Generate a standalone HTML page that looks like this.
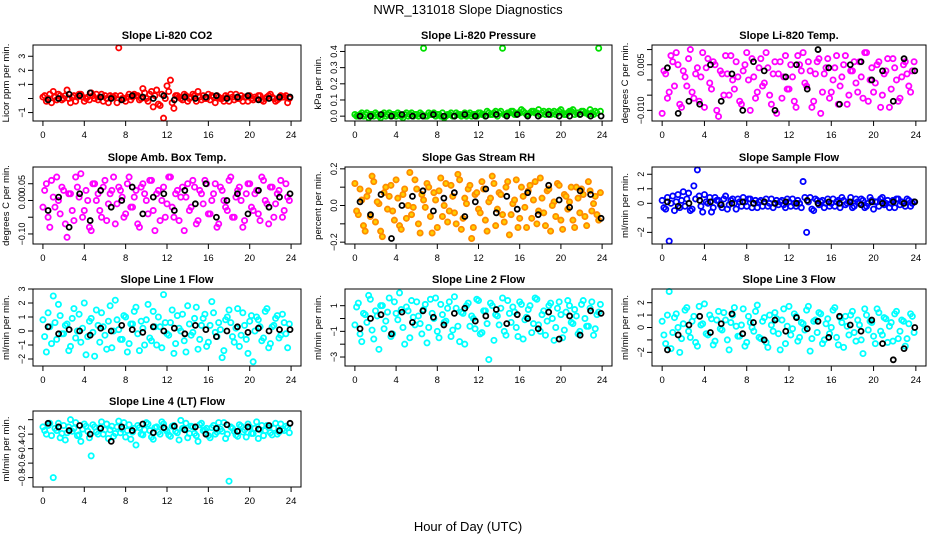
<!DOCTYPE html>
<html><head><meta charset="utf-8">
<style>
html,body{margin:0;padding:0;background:#fff;}
svg{display:block;font-family:"Liberation Sans",Arial,sans-serif;}
</style></head>
<body>
<svg id="chart" width="936" height="540" viewBox="0 0 936 540" xmlns="http://www.w3.org/2000/svg">
<rect width="936" height="540" fill="#fff"/>
<text x="468" y="14" text-anchor="middle" font-size="13">NWR_131018  Slope Diagnostics</text>
<text x="468" y="531" text-anchor="middle" font-size="13">Hour of Day (UTC)</text>
<g id="panels"></g>
</svg>
<script>
const xTicks = [0,4,8,12,16,20,24];
const titles = ["Slope Li-820 CO2","Slope Li-820 Pressure","Slope Li-820 Temp.","Slope Amb. Box Temp.","Slope Gas Stream RH","Slope Sample Flow","Slope Line 1 Flow","Slope Line 2 Flow","Slope Line 3 Flow","Slope Line 4 (LT) Flow"];
const yTitles = ["Licor ppm per min.","kPa per min.","degrees C per min.","degrees C per min.","percent per min.","ml/min per min.","ml/min per min.","ml/min per min.","ml/min per min.","ml/min per min."];
const yDomains = [[-1.6,3.8],[-0.03,0.44],[-0.0135,0.0115],[-0.13,0.10],[-0.21,0.21],[-2.8,2.5],[-2.5,3.0],[-3.7,2.3],[-3.1,3.1],[-0.93,0.12]];
const yTicks = [[-1,0,1,2,3],[0,0.1,0.2,0.3,0.4],[-0.01,-0.005,0,0.005,0.01],[-0.1,-0.05,0,0.05],[-0.2,-0.1,0,0.1,0.2],[-2,-1,0,1,2],[-2,-1,0,1,2,3],[-3,-2,-1,0,1],[-2,-1,0,1,2],[-0.8,-0.6,-0.4,-0.2,0]];
const yTickLabels = [["−1","","1","2","3"],["0.0","0.1","0.2","0.3","0.4"],["−0.010","","","0.005",""],["−0.10","","0.00","0.05"],["−0.2","","0.0","","0.2"],["−2","","0","1","2"],["−2","−1","0","1","2","3"],["−3","","−1","","1"],["−2","","0","1","2"],["−0.8","−0.6","−0.4","−0.2",""]];
const colors = ["#ff0000","#00e000","#ff00ff","#ff00ff","#ff8c00","#0000ff","#00ffff","#00ffff","#00ffff","#00ffff"];

const colored0 = [0.1,-0.2,0.3,0.5,-0.1,0.2,0.0,0.6,-0.3,0.2,0.1,0.3,-0.2,0.1,0.4,0.0,-0.1,0.3,0.2,-0.3,0.1,0.2,3.6,0.0,-0.2,0.3,0.1,0.2,-0.1,0.7,0.0,0.3,-0.6,0.6,-0.5,-1.4,0.9,1.3,-0.7,0.2,0.0,0.3,-0.2,0.1,0.2,0.5,-0.1,0.0,0.3,0.2,-0.3,0.1,0.0,0.2,-0.2,0.1,0.3,0.0,-0.2,0.1,0.2,-0.1,0.0,0.2,-0.2,0.1,0.3,0.0,-0.1,0.2,0.1,-0.3];
const coloredB0 = [0.2,0.0,-0.3,0.1,0.3,-0.1,0.2,0.0,0.1,-0.2,0.3,0.1,0.0,-0.1,0.2,0.3,0.1,-0.2,0.0,0.2,0.1,-0.3,0.2,0.0,0.1,-0.1,0.3,0.2,0.0,0.4,-0.2,0.5,0.2,-0.4,0.3,0.0,0.5,-0.3,0.2,0.1,-0.1,0.2,0.0,0.3,-0.2,0.1,0.2,0.0,-0.1,0.1,0.2,0.0,-0.2,0.1,0.3,-0.1,0.0,0.2,0.1,-0.2,0.0,0.1,0.2,-0.1,0.0,0.2,0.1,-0.2,0.0,0.1,0.2,0.0];
const black0 = [-0.1,0.0,0.3,0.2,0.4,0.1,0.0,-0.1,0.2,0.1,0.0,0.2,-0.1,0.1,0.0,0.1,0.2,0.0,0.1,0.2,-0.1,0.0,0.1,0.1];
const colored1 = [0.01,0.0,0.02,0.01,-0.01,0.01,0.02,0.0,0.01,0.0,0.02,0.01,0.0,0.01,-0.01,0.02,0.01,0.0,0.01,0.02,0.42,0.0,0.01,0.02,0.01,0.0,-0.01,0.01,0.02,0.0,0.01,0.0,0.02,0.01,0.0,0.01,0.02,0.01,0.0,0.02,0.01,0.03,0.02,0.42,0.01,0.02,0.03,0.01,0.02,0.03,0.01,0.02,0.03,0.02,0.01,0.03,0.02,0.01,0.03,0.02,0.04,0.01,0.02,0.03,0.01,0.02,0.03,0.02,0.01,0.02,0.03,0.42];
const coloredB1 = [0.0,0.01,0.0,0.02,0.01,0.0,0.01,-0.01,0.02,0.01,0.0,0.01,0.02,0.0,0.01,0.0,0.02,0.01,0.0,0.01,0.0,0.02,0.01,0.0,0.01,0.02,0.0,0.01,0.0,0.02,0.01,0.01,0.0,0.02,0.01,0.0,0.02,0.01,0.03,0.01,0.02,0.0,0.03,0.01,0.02,0.03,0.01,0.02,0.04,0.02,0.01,0.03,0.02,0.04,0.02,0.01,0.03,0.02,0.01,0.03,0.02,0.01,0.03,0.04,0.02,0.01,0.03,0.02,0.04,0.01,0.02,0.03];
const black1 = [0.0,0.0,0.01,0.0,0.01,0.0,0.0,0.01,0.0,0.0,0.01,0.0,0.0,0.01,0.0,0.01,0.0,0.0,0.01,0.0,0.0,0.01,0.0,0.0];
const colored2 = [-0.011,0.002,-0.004,0.006,0.009,-0.008,0.003,-0.002,0.010,-0.006,0.004,0.001,-0.009,0.007,-0.003,0.005,-0.012,0.002,0.008,-0.005,0.000,0.006,-0.007,0.003,0.009,-0.010,0.001,-0.004,0.007,-0.001,0.004,-0.008,0.006,0.002,-0.006,0.008,-0.003,0.001,-0.009,0.005,0.009,-0.002,0.003,-0.007,0.006,-0.011,0.002,0.007,-0.004,0.004,-0.008,0.001,0.008,-0.005,0.003,-0.001,0.006,-0.006,0.009,0.000,-0.004,0.005,-0.009,0.002,0.007,-0.003,0.004,-0.007,0.001,0.006,-0.002,0.003];
const coloredB2 = [0.003,-0.006,0.008,-0.002,0.005,-0.009,0.001,0.007,-0.004,0.002,-0.007,0.009,0.004,-0.001,0.006,-0.010,0.003,-0.005,0.002,0.008,-0.003,0.001,-0.008,0.005,0.000,0.007,-0.006,0.004,-0.002,0.009,-0.005,0.002,-0.011,0.006,0.001,-0.003,0.005,-0.007,0.008,0.003,-0.001,0.006,-0.009,0.002,0.007,-0.004,0.004,-0.006,0.000,0.008,-0.002,0.005,-0.008,0.003,0.006,-0.004,0.001,0.009,-0.007,0.004,-0.001,0.006,-0.005,0.003,-0.009,0.007,0.000,-0.006,0.005,0.002,-0.004,0.006];
const black2 = [0.004,-0.011,-0.007,-0.008,0.005,-0.007,0.002,-0.010,0.006,0.003,-0.010,0.001,0.005,-0.003,0.010,0.004,-0.008,0.005,0.006,0.000,0.003,-0.007,0.007,0.003];
const colored3 = [-0.02,0.05,-0.08,0.01,0.07,-0.04,0.03,-0.11,0.02,-0.06,0.04,0.08,-0.03,0.00,-0.09,0.05,0.02,-0.05,0.06,-0.01,0.03,-0.07,0.04,0.01,-0.04,0.07,-0.02,0.03,-0.08,0.05,0.00,0.06,-0.03,0.02,-0.06,0.04,-0.01,0.07,-0.05,0.03,0.01,-0.09,0.05,-0.02,0.04,-0.06,0.02,0.06,-0.04,0.00,0.05,-0.07,0.03,-0.02,0.06,-0.05,0.01,0.04,-0.08,0.02,0.05,-0.03,0.03,-0.06,0.06,-0.01,0.04,-0.05,0.02,0.06,-0.03,0.01];
const coloredB3 = [0.03,-0.05,0.06,-0.02,0.00,0.04,-0.07,0.02,-0.03,0.07,0.01,-0.05,0.03,-0.08,0.05,0.00,-0.03,0.04,-0.06,0.02,0.07,-0.01,0.03,-0.05,0.05,-0.02,0.01,-0.07,0.04,0.02,-0.04,0.06,-0.09,0.03,0.00,-0.05,0.07,-0.02,0.02,-0.06,0.04,0.01,-0.03,0.06,-0.07,0.03,-0.01,0.05,-0.04,0.02,-0.08,0.04,0.00,-0.03,0.07,-0.05,0.03,0.00,-0.06,0.05,-0.02,0.02,-0.04,0.07,0.00,-0.07,0.04,-0.01,0.03,-0.05,0.05,0.00];
const black3 = [-0.03,0.01,-0.08,0.02,-0.06,0.03,-0.02,0.00,0.04,-0.04,0.01,0.02,-0.03,0.03,-0.01,0.05,-0.05,0.00,0.02,-0.04,0.03,-0.02,0.01,0.02];
const colored4 = [0.12,-0.05,0.03,-0.14,0.08,0.16,-0.09,0.01,-0.17,0.10,0.05,-0.03,0.14,-0.11,0.06,-0.07,0.18,-0.01,0.09,-0.15,0.03,0.12,-0.06,0.07,-0.12,0.15,0.00,-0.09,0.11,-0.04,0.17,-0.13,0.04,0.09,-0.18,0.06,-0.02,0.13,-0.08,0.02,0.16,-0.11,0.07,-0.05,0.10,-0.16,0.01,0.14,-0.07,0.05,-0.12,0.11,0.03,-0.10,0.15,-0.04,0.08,-0.14,0.02,0.12,-0.08,0.06,-0.02,0.10,-0.12,0.04,0.09,-0.06,0.13,-0.03,0.05,-0.08];
const coloredB4 = [-0.03,0.09,-0.11,0.05,-0.06,0.13,0.02,-0.14,0.07,-0.02,0.11,-0.08,0.04,-0.13,0.09,0.00,-0.05,0.14,-0.10,0.06,-0.01,0.10,-0.15,0.03,0.08,-0.06,0.12,-0.03,0.05,-0.10,0.14,-0.07,0.01,0.11,-0.12,0.07,-0.04,0.09,-0.14,0.04,0.12,-0.02,0.06,-0.09,0.13,-0.05,0.03,-0.12,0.10,-0.01,0.08,-0.07,0.13,-0.03,0.04,-0.11,0.09,0.00,-0.06,0.11,-0.13,0.05,0.02,-0.08,0.10,-0.04,0.06,-0.11,0.08,0.01,-0.05,0.07];
const black4 = [0.02,-0.05,0.06,-0.18,0.00,0.05,0.08,-0.03,0.04,0.07,-0.06,0.02,0.09,-0.04,0.05,-0.02,0.07,-0.05,0.11,0.03,-0.01,0.08,0.06,-0.07];
const colored5 = [0.2,-0.4,-2.6,0.5,0.1,-0.3,0.8,0.3,-0.5,1.2,2.3,-0.2,0.6,0.0,-0.6,0.4,0.2,-0.3,0.5,-0.1,0.3,-0.4,0.1,0.4,-0.2,0.3,0.0,-0.3,0.2,0.1,-0.2,0.3,0.0,-0.1,0.2,-0.3,0.1,0.3,-0.2,0.0,1.5,-2.0,0.4,-0.5,0.2,0.1,-0.3,0.3,0.0,-0.2,0.2,0.4,-0.1,0.1,-0.3,0.3,0.0,0.2,-0.2,0.4,-0.4,0.1,0.3,-0.1,0.2,0.0,-0.3,0.3,0.1,-0.2,0.2,0.0];
const coloredB5 = [-0.3,0.4,0.0,-0.5,0.6,0.2,-0.2,0.7,-0.4,0.3,0.5,-0.6,0.1,0.4,-0.3,0.2,-0.1,0.3,-0.4,0.2,0.0,0.3,-0.2,0.1,0.3,-0.3,0.2,0.1,-0.2,0.3,0.0,-0.3,0.2,0.1,-0.1,0.3,-0.2,0.0,0.2,-0.3,0.4,0.1,-0.4,0.3,-0.1,0.2,0.0,-0.2,0.3,0.1,-0.3,0.2,0.0,0.4,-0.2,0.1,0.3,-0.3,0.0,0.2,0.1,-0.2,0.4,0.0,-0.3,0.2,0.3,-0.1,0.0,0.3,-0.2,0.1];
const black5 = [0.1,-0.2,0.0,0.2,0.1,-0.1,0.0,0.1,0.0,0.1,0.0,0.1,0.0,0.2,0.0,0.1,0.0,0.1,-0.1,0.1,0.0,0.1,0.0,0.1];
const colored6 = [0.8,-1.5,0.3,2.5,-0.6,1.1,-0.2,0.5,-1.1,1.6,0.0,-0.8,2.0,-0.4,0.9,-1.8,0.4,1.3,-0.3,0.7,-1.2,2.2,0.1,-0.6,1.0,-0.9,0.5,1.7,-1.4,0.2,0.8,-0.5,1.4,-1.0,0.3,2.6,-0.2,0.6,-1.6,1.1,0.0,-0.7,1.8,-0.3,0.9,-1.3,0.4,1.2,-0.8,2.1,-0.1,0.6,-1.9,0.8,1.5,-0.4,0.2,-1.1,1.3,-0.6,0.7,-2.2,1.0,0.3,-0.5,1.6,-0.9,0.4,1.1,-0.3,0.6,-1.2];
const coloredB6 = [-0.4,1.3,-0.9,0.6,1.9,-0.2,0.4,-1.4,0.9,-0.5,1.2,0.2,-1.7,0.7,-0.1,1.5,-0.8,0.3,-1.3,1.8,0.0,0.8,-0.6,1.1,-1.5,0.5,1.4,-0.2,0.7,-1.0,1.9,-0.7,0.3,1.0,-1.2,0.6,-0.3,1.5,-0.9,0.2,1.2,-1.5,0.5,-0.1,1.7,-0.6,0.9,-1.1,0.4,1.3,-0.4,0.1,-1.4,1.0,0.6,-0.8,1.6,-0.3,0.4,-1.6,1.1,0.0,0.8,-0.7,1.4,-1.2,0.3,0.9,-0.5,1.2,-0.2,0.5];
const black6 = [0.3,-0.2,0.1,0.0,-0.3,0.2,0.0,0.4,0.1,-0.1,0.3,0.0,0.2,-0.2,0.4,0.1,-0.4,0.0,0.3,-0.1,0.2,0.0,0.1,0.1];
const colored7 = [-0.5,1.2,-1.8,0.3,1.8,-0.9,0.6,-2.4,1.0,-0.2,1.6,-1.2,0.4,2.0,-0.7,0.9,-1.5,0.1,1.3,-0.4,0.7,-1.9,1.5,0.0,-1.0,1.1,-0.3,0.8,-1.4,1.7,-0.6,0.5,-2.0,1.2,0.2,-0.8,1.4,-1.1,0.6,-3.2,1.0,0.3,-0.5,1.6,-1.3,0.4,0.9,-0.7,1.3,-1.6,0.1,1.0,-0.4,1.5,-1.0,0.6,-0.2,1.2,-1.7,0.8,0.3,-0.9,1.4,-0.3,0.7,-1.2,1.1,0.0,-0.6,1.3,-0.8,0.5];
const coloredB7 = [0.9,-1.2,0.4,-0.3,1.5,-1.6,0.2,1.0,-0.8,0.5,-1.4,1.3,-0.1,0.7,-2.0,0.6,1.4,-0.5,0.2,-1.2,1.1,-0.7,0.4,1.6,-1.5,0.3,-0.2,1.3,-0.9,0.8,-1.8,0.4,1.0,-0.6,0.0,1.5,-1.2,0.6,-0.4,1.2,-1.7,0.2,0.8,-1.0,1.4,-0.3,0.5,-1.4,1.1,-0.1,0.7,-1.1,1.6,-0.5,0.3,-1.3,1.0,0.0,-0.7,1.3,-1.5,0.5,1.0,-0.4,0.2,-1.0,1.4,-0.6,0.8,-1.3,0.3,1.1];
const black7 = [-0.8,0.0,0.3,-1.2,0.5,-0.3,0.6,0.1,-0.5,0.4,0.8,-0.2,0.2,0.7,-0.4,0.3,0.0,-0.8,0.5,-1.6,0.2,-1.3,0.6,0.4];
const colored8 = [0.5,-1.3,2.9,-0.4,1.1,-2.0,0.3,1.6,-0.8,0.9,-1.5,0.2,1.9,-0.6,0.7,-1.1,1.3,-0.2,0.6,-1.8,1.0,0.1,-0.7,1.5,-1.2,0.4,-0.3,1.8,-0.9,0.8,-1.6,0.2,1.2,-0.5,0.6,-1.3,1.7,-0.1,0.9,-0.8,0.3,1.4,-1.9,0.5,-0.4,1.1,-1.0,0.7,0.0,1.6,-1.4,0.4,0.9,-0.6,1.3,-1.1,0.2,-2.1,1.0,0.5,-0.7,1.5,-0.3,0.8,-1.2,0.4,1.1,-0.9,0.6,-1.5,0.3,0.9];
const coloredB8 = [-0.6,1.0,-1.7,0.8,0.0,-0.9,1.4,-0.3,0.5,-1.2,1.7,0.3,-0.5,1.0,-1.4,0.6,-0.1,1.2,-1.0,0.4,1.6,-0.7,0.2,-1.5,0.9,0.0,1.3,-0.8,0.5,-1.2,1.0,-0.3,0.7,-1.8,1.5,0.1,-0.6,1.1,-1.1,0.4,-0.2,1.7,-0.9,0.6,1.2,-1.3,0.3,-0.5,1.4,-0.8,0.8,-1.6,0.1,1.0,-0.4,0.6,-1.0,1.5,-0.2,0.4,-1.3,1.2,-0.6,0.7,0.1,-1.1,1.3,-0.3,0.5,-0.9,1.1,-0.4];
const black8 = [-1.8,-0.6,0.2,0.9,-0.4,0.3,1.1,-0.5,0.4,-1.0,0.6,-0.3,0.8,-0.1,0.5,-0.8,0.9,0.2,-0.3,0.6,-1.3,-2.6,-1.7,0.0];
const colored9 = [-0.1,-0.2,-0.05,-0.8,-0.15,-0.25,-0.08,-0.18,0.0,-0.12,-0.22,-0.3,-0.06,-0.16,-0.5,-0.1,-0.2,-0.03,-0.14,-0.26,-0.09,-0.19,-0.02,-0.13,-0.24,-0.07,-0.17,-0.35,-0.11,-0.21,-0.04,-0.15,-0.27,-0.1,-0.2,-0.06,-0.16,-0.23,-0.08,-0.18,-0.01,-0.13,-0.25,-0.09,-0.19,-0.3,-0.05,-0.14,-0.22,-0.11,-0.2,-0.04,-0.16,-0.26,-0.85,-0.12,-0.21,-0.07,-0.17,-0.24,-0.1,-0.19,-0.03,-0.14,-0.22,-0.08,-0.18,-0.12,-0.2,-0.06,-0.15,-0.11];
const coloredB9 = [-0.15,-0.08,-0.22,-0.12,-0.05,-0.19,-0.28,-0.1,-0.16,-0.04,-0.21,-0.13,-0.09,-0.25,-0.07,-0.17,-0.11,-0.2,-0.06,-0.14,-0.23,-0.1,-0.18,-0.04,-0.15,-0.27,-0.12,-0.08,-0.2,-0.14,-0.06,-0.24,-0.11,-0.17,-0.03,-0.13,-0.21,-0.09,-0.16,-0.28,-0.12,-0.05,-0.19,-0.1,-0.22,-0.07,-0.15,-0.12,-0.25,-0.08,-0.17,-0.13,-0.04,-0.2,-0.1,-0.16,-0.23,-0.09,-0.14,-0.06,-0.19,-0.12,-0.26,-0.08,-0.15,-0.11,-0.21,-0.05,-0.17,-0.13,-0.09,-0.18];
const black9 = [-0.05,-0.1,-0.15,-0.08,-0.2,-0.12,-0.3,-0.1,-0.15,-0.06,-0.18,-0.11,-0.09,-0.14,-0.1,-0.2,-0.12,-0.07,-0.16,-0.1,-0.13,-0.08,-0.15,-0.05];

const coloredSeries = [colored0,colored1,colored2,colored3,colored4,colored5,colored6,colored7,colored8,colored9];
const coloredSeriesB = [coloredB0,coloredB1,coloredB2,coloredB3,coloredB4,coloredB5,coloredB6,coloredB7,coloredB8,coloredB9];
const blackSeries = [black0,black1,black2,black3,black4,black5,black6,black7,black8,black9];

const NS = "http://www.w3.org/2000/svg";
const root = document.getElementById("panels");
const colX = [[33,301],[345,612],[652,926]];
const rowY = [[45,121],[167,244],[289,366],[411,487]];

function mk(tag, attrs, parent){
  const e = document.createElementNS(NS, tag);
  for (const k in attrs) e.setAttribute(k, attrs[k]);
  parent.appendChild(e);
  return e;
}

for (let p = 0; p < 10; p++) {
  const [x0,x1] = colX[p % 3];
  const [y0,y1] = rowY[Math.floor(p / 3)];
  const g = mk("g", {}, root);
  
  
  const xs = h => x0 + (h + 0.96) / 25.92 * (x1 - x0);
  const [d0,d1] = yDomains[p];
  const ys = v => y1 - (v - d0) / (d1 - d0) * (y1 - y0);

  const t = mk("text", {x:(x0+x1)/2, y:y0-6, "text-anchor":"middle", "font-size":"11", "font-weight":"bold"}, g);
  t.textContent = titles[p];
  
  

  const yt = mk("text", {x:0, y:0, "text-anchor":"middle", "font-size":"9.5", transform:`translate(${x0-24},${(y0+y1)/2}) rotate(-90)`}, g);
  yt.textContent = yTitles[p];
  
  

  const isRH = p === 4;
  const drawColored = (cs, off) => {
    const n = cs.length;
    cs.forEach((v, i) => {
      const h = (i + off) * 24 / n;
      const c = mk("circle", {cx: xs(h), cy: ys(v), r: 2.6, fill: isRH ? "#ffd000" : "none", stroke: colors[p], "stroke-width": 1.8}, g);
      
      
    });
  };
  drawColored(coloredSeries[p], 0);
  drawColored(coloredSeriesB[p], 0.5);

  const bs = blackSeries[p];
  bs.forEach((v, i) => {
    const h = 0.5 + i * 23.4 / (bs.length - 1);
    const c = mk("circle", {cx: xs(h), cy: ys(v), r: 2.5, fill: "none", stroke: "#000", "stroke-width": 1.8}, g);
    
    
  });

  const box = mk("rect", {x:x0, y:y0, width:x1-x0, height:y1-y0, fill:"none", stroke:"#000", "stroke-width":1}, g);
  
  

  xTicks.forEach(tv => {
    const x = xs(tv);
    mk("line", {x1:x, x2:x, y1:y1, y2:y1+5, stroke:"#000"}, g);
    const lt = mk("text", {x:x, y:y1+17, "text-anchor":"middle", "font-size":"9.5"}, g);
    lt.textContent = tv;
    
    
  });
  yTicks[p].forEach((tv, k) => {
    const y = ys(tv);
    mk("line", {x1:x0-5, x2:x0, y1:y, y2:y, stroke:"#000"}, g);
    const lab = yTickLabels[p][k];
    if (lab) {
      const lt = mk("text", {x:0, y:0, "text-anchor":"middle", "font-size":"9", transform:`translate(${x0-8},${y}) rotate(-90)`}, g);
      lt.textContent = lab;
      
      
    }
  });
}
</script>
</body></html>
